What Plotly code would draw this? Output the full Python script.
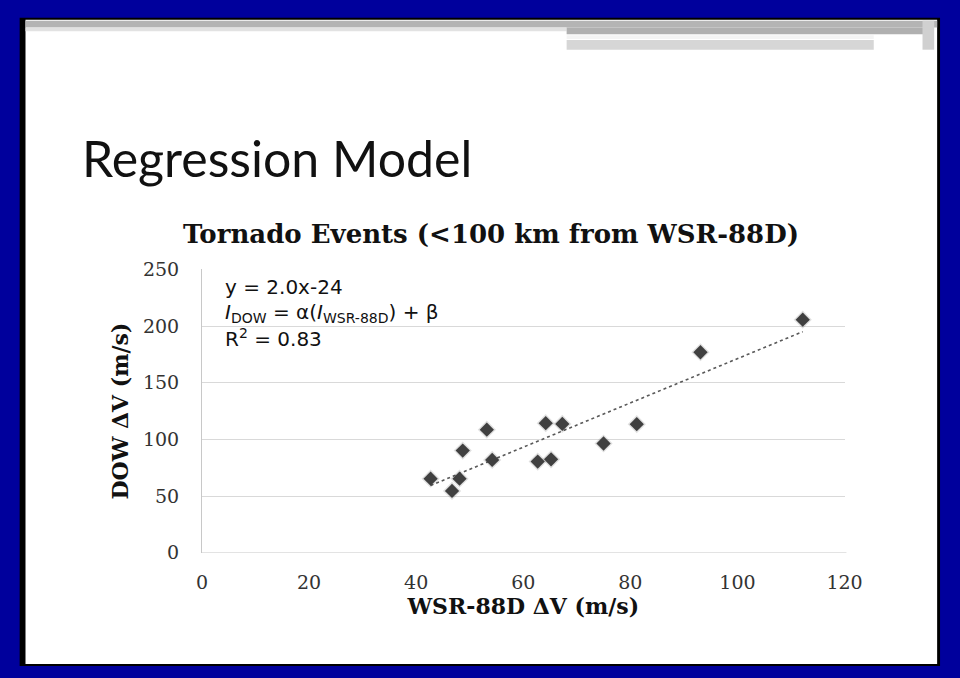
import numpy as np
import plotly.graph_objects as go

# ---- data ----
wsr_dv = [42.7, 46.7, 48.1, 48.7, 53.2, 54.2, 62.7, 64.2, 65.2, 67.3, 75.0, 81.2, 93.1, 112.2]
dow_dv = [65.4, 54.6, 65.4, 90.2, 108.6, 81.9, 80.5, 114.3, 82.5, 113.7, 96.4, 113.5, 176.9, 205.6]
x_ticks = [0, 20, 40, 60, 80, 100, 120]
y_ticks = [0, 50, 100, 150, 200, 250]

W, H = 960, 678

def px(x):
    return x / W

def py(y):
    return 1 - y / H

fig = go.Figure()

# trendline (least squares fit of the points)
slope, intercept = np.polyfit(wsr_dv, dow_dv, 1)
tx = [min(wsr_dv), max(wsr_dv)]
ty = [slope * v + intercept for v in tx]
fig.add_trace(go.Scatter(x=tx, y=ty, mode="lines",
                         line=dict(color="#595959", width=1.6, dash="dot"),
                         hoverinfo="skip", showlegend=False))
# soft shadow
fig.add_trace(go.Scatter(x=wsr_dv, y=dow_dv, mode="markers",
                         marker=dict(symbol="diamond", size=14, color="rgba(0,0,0,0.12)",
                                     line=dict(width=0)),
                         hoverinfo="skip", showlegend=False))
fig.add_trace(go.Scatter(x=wsr_dv, y=dow_dv, mode="markers",
                         marker=dict(symbol="diamond", size=11, color="#404040",
                                     line=dict(width=0)),
                         showlegend=False))

serif = "DejaVu Serif"
fig.update_layout(
    width=W, height=H,
    margin=dict(l=0, r=0, t=0, b=0),
    paper_bgcolor="#00009c",
    plot_bgcolor="rgba(0,0,0,0)",
    showlegend=False,
    xaxis=dict(domain=[px(201), px(860)], range=[0, 120],
               tickvals=x_ticks, ticktext=[str(v) for v in x_ticks],
               showgrid=False, zeroline=False,
               showline=False, ticks="",
               ticklabelstandoff=16,
               tickfont=dict(family=serif, size=19, color="#333333"),
               title=dict(text="<b>WSR-88D ΔV (m/s)</b>", standoff=6,
                          font=dict(family=serif, size=22, color="#111111"))),
    yaxis=dict(domain=[py(560), py(267)], range=[0, 250],
               tickvals=y_ticks, ticktext=[str(v) for v in y_ticks],
               showgrid=True, gridcolor="#d9d9d9", gridwidth=1,
               zeroline=False, showline=True, linecolor="#c8c8c8", linewidth=1,
               ticks="", ticklabelstandoff=18,
               tickfont=dict(family=serif, size=19, color="#333333"),
               title=dict(text="<b>DOW ΔV (m/s)</b>", standoff=8,
                          font=dict(family=serif, size=22, color="#111111"))),
)

# x axis baseline
fig.add_shape(type="line", xref="paper", yref="y", x0=px(201), x1=px(862), y0=0, y1=0,
              line=dict(color="#c8c8c8", width=1))

# ---- slide decoration ----
def rect(x0, y0, x1, y1, color):
    fig.add_shape(type="rect", xref="paper", yref="paper",
                  x0=px(x0), x1=px(x1), y0=py(y1), y1=py(y0),
                  fillcolor=color, line=dict(width=0), layer="below")

rect(14, 7, 958, 677, "#000000")
rect(20, 9, 955, 675, "#ffffff")
rect(20, 10, 955, 17, "#b4b4b4")
rect(20, 17, 575, 21, "#e2e2e2")
rect(575, 17, 945, 24, "#b0b0b0")
rect(575, 30, 890, 40, "#d6d6d6")
rect(575, 25, 890, 29, "#f4f4f4")
rect(940, 10, 952, 40, "#d0d0d0")

# slide title
fig.add_annotation(text="Regression Model", xref="paper", yref="paper",
                   x=px(76), y=py(152), xanchor="left", yanchor="middle",
                   showarrow=False, font=dict(family="Lato", size=50, color="#111111"))
# chart title
fig.add_annotation(text="<b>Tornado Events (<100 km from WSR-88D)</b>", xref="paper", yref="paper",
                   x=px(497), y=py(230), xanchor="center", yanchor="middle",
                   showarrow=False, font=dict(family=serif, size=26, color="#111111"))

# regression equation text
eq_font = dict(family="DejaVu Sans", size=20, color="#111111")
fig.add_annotation(text="y = 2.0x-24", xref="paper", yref="paper",
                   x=px(223), y=py(285), xanchor="left", yanchor="middle",
                   showarrow=False, font=eq_font)
fig.add_annotation(text="<i>I</i><sub>DOW</sub> = α(<i>I</i><sub>WSR-88D</sub>) + β",
                   xref="paper", yref="paper",
                   x=px(223), y=py(312), xanchor="left", yanchor="middle",
                   showarrow=False, font=eq_font)
fig.add_annotation(text="R<sup>2</sup> = 0.83", xref="paper", yref="paper",
                   x=px(223), y=py(338), xanchor="left", yanchor="middle",
                   showarrow=False, font=eq_font)

post = (
    "document.documentElement.style.margin='0';"
    "document.body.style.margin='0';document.body.style.overflow='hidden';"
)
fig.write_html("out.html", config={"displayModeBar": False}, post_script=post)
